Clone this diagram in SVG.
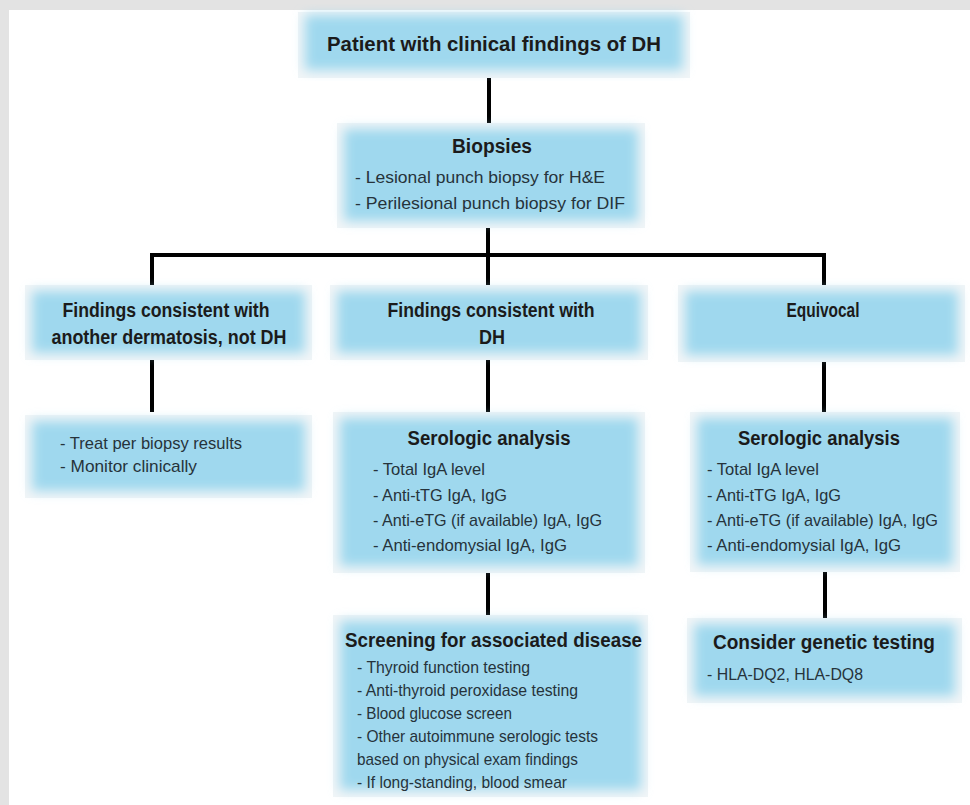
<svg xmlns="http://www.w3.org/2000/svg" width="970" height="805" viewBox="0 0 970 805">
<defs>
<filter id="soft" x="-10%" y="-20%" width="120%" height="140%">
<feGaussianBlur stdDeviation="6"/>
</filter>
<style>
.bg{fill:#f1f5f7;}
.core{fill:#9fd8ee;filter:url(#soft);}
.t{font-family:"Liberation Sans",Arial,sans-serif;font-weight:bold;font-size:20px;fill:#1b1b1b;}
.b{font-family:"Liberation Sans",Arial,sans-serif;font-size:17px;fill:#26333b;}
.c{stroke:#000;stroke-width:4;fill:none;}
</style>
</defs>
<rect width="970" height="805" fill="#e3e3e3"/>
<rect x="9" y="10" width="961" height="795" fill="#ffffff"/>
<g id="connectors">
<line class="c" x1="489" y1="76" x2="489" y2="125"/>
<line class="c" x1="488" y1="226" x2="488" y2="255"/>
<line class="c" x1="150" y1="255" x2="826" y2="255"/>
<line class="c" x1="152" y1="253" x2="152" y2="287"/>
<line class="c" x1="488" y1="253" x2="488" y2="287"/>
<line class="c" x1="824" y1="253" x2="824" y2="287"/>
<line class="c" x1="152" y1="360" x2="152" y2="412"/>
<line class="c" x1="488" y1="360" x2="488" y2="412"/>
<line class="c" x1="824" y1="362" x2="824" y2="412"/>
<line class="c" x1="488" y1="573" x2="488" y2="615"/>
<line class="c" x1="825" y1="572" x2="825" y2="618"/>
</g>
<g id="n-patient">
<rect class="bg" x="298" y="12" width="392" height="66"/>
<rect class="core" x="305" y="15" width="378" height="55"/>
<text class="t" x="494" y="51" text-anchor="middle" textLength="334" lengthAdjust="spacingAndGlyphs">Patient with clinical findings of DH</text>
</g>
<g id="n-biopsies">
<rect class="bg" x="337" y="123" width="308" height="105"/>
<rect class="core" x="344" y="129" width="294" height="92"/>
<text class="t" x="492" y="153" text-anchor="middle" textLength="80" lengthAdjust="spacingAndGlyphs">Biopsies</text>
<text class="b" x="355" y="183" textLength="250" lengthAdjust="spacingAndGlyphs">- Lesional punch biopsy for H&amp;E</text>
<text class="b" x="355" y="209" textLength="270" lengthAdjust="spacingAndGlyphs">- Perilesional punch biopsy for DIF</text>
</g>
<g id="n-other">
<rect class="bg" x="25" y="285" width="287" height="75"/>
<rect class="core" x="32" y="291" width="273" height="62"/>
<text class="t" x="166" y="317" text-anchor="middle" textLength="207" lengthAdjust="spacingAndGlyphs">Findings consistent with</text>
<text class="t" x="169" y="344" text-anchor="middle" textLength="235" lengthAdjust="spacingAndGlyphs">another dermatosis, not DH</text>
</g>
<g id="n-dh">
<rect class="bg" x="330" y="285" width="318" height="75"/>
<rect class="core" x="337" y="291" width="304" height="62"/>
<text class="t" x="491" y="317" text-anchor="middle" textLength="207" lengthAdjust="spacingAndGlyphs">Findings consistent with</text>
<text class="t" x="492" y="344" text-anchor="middle" textLength="26" lengthAdjust="spacingAndGlyphs">DH</text>
</g>
<g id="n-equivocal">
<rect class="bg" x="678" y="285" width="287" height="77"/>
<rect class="core" x="685" y="291" width="273" height="64"/>
<text class="t" x="823" y="317" text-anchor="middle" textLength="73" lengthAdjust="spacingAndGlyphs">Equivocal</text>
</g>
<g id="n-treat">
<rect class="bg" x="25" y="415" width="287" height="83"/>
<rect class="core" x="32" y="421" width="273" height="70"/>
<text class="b" x="60" y="449" textLength="182" lengthAdjust="spacingAndGlyphs">- Treat per biopsy results</text>
<text class="b" x="60" y="472" textLength="137" lengthAdjust="spacingAndGlyphs">- Monitor clinically</text>
</g>
<g id="n-sero-dh">
<rect class="bg" x="333" y="412" width="312" height="161"/>
<rect class="core" x="340" y="418" width="298" height="148"/>
<text class="t" x="489" y="445" text-anchor="middle" textLength="163" lengthAdjust="spacingAndGlyphs">Serologic analysis</text>
<text class="b" x="373" y="475" textLength="112" lengthAdjust="spacingAndGlyphs">- Total IgA level</text>
<text class="b" x="373" y="501" textLength="134" lengthAdjust="spacingAndGlyphs">- Anti-tTG IgA, IgG</text>
<text class="b" x="373" y="526" textLength="229" lengthAdjust="spacingAndGlyphs">- Anti-eTG (if available) IgA, IgG</text>
<text class="b" x="373" y="551" textLength="194" lengthAdjust="spacingAndGlyphs">- Anti-endomysial IgA, IgG</text>
</g>
<g id="n-sero-eq">
<rect class="bg" x="690" y="412" width="270" height="160"/>
<rect class="core" x="697" y="418" width="256" height="147"/>
<text class="t" x="819" y="445" text-anchor="middle" textLength="162" lengthAdjust="spacingAndGlyphs">Serologic analysis</text>
<text class="b" x="707" y="475" textLength="112" lengthAdjust="spacingAndGlyphs">- Total IgA level</text>
<text class="b" x="707" y="501" textLength="134" lengthAdjust="spacingAndGlyphs">- Anti-tTG IgA, IgG</text>
<text class="b" x="707" y="526" textLength="231" lengthAdjust="spacingAndGlyphs">- Anti-eTG (if available) IgA, IgG</text>
<text class="b" x="707" y="551" textLength="194" lengthAdjust="spacingAndGlyphs">- Anti-endomysial IgA, IgG</text>
</g>
<g id="n-screening">
<rect class="bg" x="333" y="615" width="315" height="182"/>
<rect class="core" x="340" y="621" width="301" height="169"/>
<text class="t" x="345" y="647" textLength="297" lengthAdjust="spacingAndGlyphs">Screening for associated disease</text>
<text class="b" x="357" y="673" textLength="173" lengthAdjust="spacingAndGlyphs">- Thyroid function testing</text>
<text class="b" x="357" y="696" textLength="221" lengthAdjust="spacingAndGlyphs">- Anti-thyroid peroxidase testing</text>
<text class="b" x="357" y="719" textLength="155" lengthAdjust="spacingAndGlyphs">- Blood glucose screen</text>
<text class="b" x="357" y="742" textLength="241" lengthAdjust="spacingAndGlyphs">- Other autoimmune serologic tests</text>
<text class="b" x="357" y="765" textLength="221" lengthAdjust="spacingAndGlyphs">based on physical exam findings</text>
<text class="b" x="357" y="788" textLength="210" lengthAdjust="spacingAndGlyphs">- If long-standing, blood smear</text>
</g>
<g id="n-genetic">
<rect class="bg" x="687" y="618" width="275" height="85"/>
<rect class="core" x="694" y="624" width="261" height="72"/>
<text class="t" x="824" y="649" text-anchor="middle" textLength="222" lengthAdjust="spacingAndGlyphs">Consider genetic testing</text>
<text class="b" x="707" y="680" textLength="156" lengthAdjust="spacingAndGlyphs">- HLA-DQ2, HLA-DQ8</text>
</g>
</svg>
